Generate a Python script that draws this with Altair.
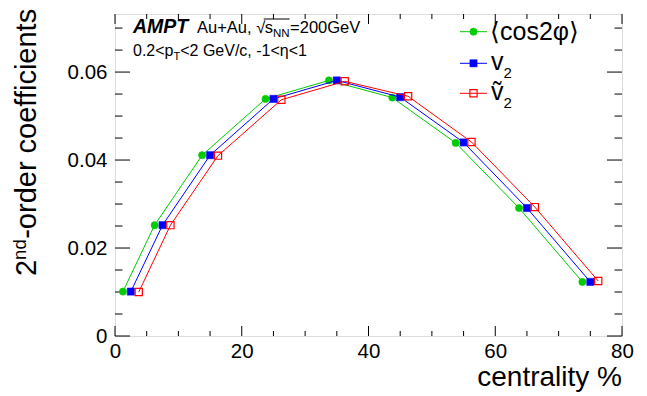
import altair as alt
import pandas as pd

# ---------------- data ----------------
cent_cos = [1.25, 6.25, 13.75, 23.75, 33.75, 43.75, 53.75, 63.75, 73.75]
val_cos = [0.0101, 0.0252, 0.0411, 0.0539, 0.0581, 0.0542, 0.0439, 0.0291, 0.0123]

cent_v2 = [2.5, 7.5, 15.0, 25.0, 35.0, 45.0, 55.0, 65.0, 75.0]
val_v2 = [0.0101, 0.0252, 0.0411, 0.0539, 0.0581, 0.0543, 0.0440, 0.0291, 0.0123]

cent_v2t = [3.75, 8.75, 16.25, 26.25, 36.25, 46.25, 56.25, 66.25, 76.25]
val_v2t = [0.0100, 0.0252, 0.0410, 0.0537, 0.0579, 0.0545, 0.0441, 0.0293, 0.0125]

x_major = [0, 20, 40, 60, 80]
x_minor = [5, 10, 15, 25, 30, 35, 45, 50, 55, 65, 70, 75]
y_major = [0.0, 0.02, 0.04, 0.06]
y_minor = [0.005, 0.01, 0.015, 0.025, 0.03, 0.035, 0.045, 0.05, 0.055, 0.065, 0.07]

# ---------------- layout ----------------
W, H = 507, 322
OX, OY = 115, 14          # page position of plot origin
FONT = "Liberation Sans"
GREEN, BLUE, RED = "#00cc00", "#0000ff", "#ff0000"

xs = alt.Scale(domain=[0, 80], nice=False, zero=False)
ys = alt.Scale(domain=[0, 0.0732], nice=False, zero=False)
xaxis = alt.Axis(values=x_major, title=None, labelFlush=False, labelPadding=5,
                 labelFontSize=20.5, labelFont=FONT, labelColor="black",
                 ticks=False, domain=False, grid=False)
yaxis = alt.Axis(values=y_major, title=None, labelPadding=8, labelFontSize=20.5,
                 labelFont=FONT, labelColor="black", ticks=False, domain=False,
                 grid=False,
                 labelExpr="datum.value == 0 ? '0' : format(datum.value, '.2f')")

AW = {' ': 278, '%': 889, '+': 584, ',': 278, '-': 333, '.': 278, '/': 278,
      '<': 584, '=': 584, 'A': 667, 'G': 778, 'N': 722, 'T': 611, 'V': 667,
      'a': 556, 'c': 500, 'd': 556, 'e': 556, 'f': 278, 'i': 222, 'l': 222,
      'n': 556, 'o': 556, 'p': 556, 'r': 333, 's': 500, 't': 278, 'u': 556,
      'y': 500, 'v': 500, 'η': 556, '√': 549, 'M': 833, 'P': 667}
for d in "0123456789":
    AW[d] = 556


def tw(s, size):
    return sum(AW.get(ch, 556) for ch in s) * size / 1000.0


dummy = pd.DataFrame({"d": [0]})


def txt(s, px, py, size, angle=None, **kw):
    props = dict(text=s, fontSize=size, font=FONT, align="left",
                 baseline="alphabetic", color="black")
    if angle is not None:
        props["angle"] = angle
    props.update(kw)
    return alt.Chart(dummy).mark_text(**props).encode(
        x=alt.value(px - OX), y=alt.value(py - OY))


def series(xv, yv, color, shape, filled):
    df = pd.DataFrame({"c": xv, "v": yv})
    enc = dict(x=alt.X("c:Q", scale=xs, axis=xaxis),
               y=alt.Y("v:Q", scale=ys, axis=yaxis))
    line = alt.Chart(df).mark_line(color=color, strokeWidth=1).encode(**enc)
    if filled:
        pts = alt.Chart(df).mark_point(shape=shape, filled=True, fill=color,
                                       stroke=color, strokeWidth=0.5,
                                       size=52, opacity=1).encode(**enc)
    else:
        pts = alt.Chart(df).mark_point(shape=shape, filled=False, stroke=color,
                                       strokeWidth=1.2, size=52,
                                       opacity=1).encode(**enc)
    return [line, pts]


def yticks(vals, length):
    df = pd.DataFrame({"t": vals})
    b = alt.Chart(df).mark_rule(color="black", strokeWidth=1)
    y = alt.Y("t:Q", scale=ys, axis=yaxis)
    return [b.encode(y=y, x=alt.value(0), x2=alt.value(length)),
            b.encode(y=y, x=alt.value(W), x2=alt.value(W - length))]


def xticks(vals, length):
    df = pd.DataFrame({"t": vals})
    b = alt.Chart(df).mark_rule(color="black", strokeWidth=1)
    x = alt.X("t:Q", scale=xs, axis=xaxis)
    return [b.encode(x=x, y=alt.value(H), y2=alt.value(H - length)),
            b.encode(x=x, y=alt.value(0), y2=alt.value(length))]


layers = []
layers += yticks(y_major, 15) + yticks(y_minor, 7.5)
layers += xticks(x_major, 10) + xticks(x_minor, 5)
layers += series(cent_cos, val_cos, GREEN, "circle", True)
layers += series(cent_v2, val_v2, BLUE, "square", True)
layers += series(cent_v2t, val_v2t, RED, "square", False)

# ---- axis titles ----
layers.append(txt("centrality %", 622, 386, 28, align="right"))
ybx, ystart = 36, 276
layers.append(txt("2", ybx, ystart, 29, angle=270))
y2 = ystart - tw("2", 29)
layers.append(txt("nd", ybx - 10, y2, 18.5, angle=270))
y3 = y2 - tw("nd", 18.5) - 0.5
layers.append(txt("-order coefficients", ybx, y3, 29, angle=270))

# ---- top-left annotation ----
b1, b2 = 33, 56
FS1 = 16.5
layers.append(txt("AMPT", 133, b1, 19.5, fontWeight="bold", fontStyle="italic"))
x = 197
layers.append(txt("Au+Au,", x, b1, FS1))
x += tw("Au+Au, ", FS1)
layers.append(txt("√", x, b1, FS1))
xs_ = x + tw("√", FS1) - 0.5
layers.append(txt("s", xs_, b1, FS1))
xn = xs_ + tw("s", FS1)
layers.append(txt("NN", xn, b1 + 4, 11.5))
xe = xn + tw("NN", 11.5) + 0.5
layers.append(alt.Chart(dummy).mark_rule(color="black", strokeWidth=1).encode(
    x=alt.value(xs_ - 1 - OX), x2=alt.value(xe - 0.5 - OX),
    y=alt.value(b1 - 14 - OY)))
layers.append(txt("=200GeV", xe, b1, FS1))

x = 133
layers.append(txt("0.2<p", x, b2, 16))
x += tw("0.2<p", 16)
layers.append(txt("T", x, b2 + 4, 11))
x += tw("T", 11)
layers.append(txt("<2 GeV/c, -1<η<1", x, b2, 16))

# ---- legend ----
leg = [(31.7, GREEN, "circle", True), (63.3, BLUE, "square", True),
       (93.3, RED, "square", False)]
for ly, col, shp, fil in leg:
    layers.append(alt.Chart(dummy).mark_rule(color=col, strokeWidth=1).encode(
        x=alt.value(460 - OX), x2=alt.value(487 - OX), y=alt.value(ly - OY)))
    if fil:
        m = alt.Chart(dummy).mark_point(shape=shp, filled=True, fill=col,
                                        stroke=col, strokeWidth=0.5, size=52,
                                        opacity=1)
    else:
        m = alt.Chart(dummy).mark_point(shape=shp, filled=False, stroke=col,
                                        strokeWidth=1.2, size=52, opacity=1)
    layers.append(m.encode(x=alt.value(473.5 - OX), y=alt.value(ly - OY)))

layers.append(txt("⟨cos2φ⟩", 490, 40, 25))
layers.append(txt("v", 491, 69.5, 25))
layers.append(txt("2", 503.5, 77.5, 15))
layers.append(txt("ṽ", 491, 100, 25))
layers.append(txt("2", 503.5, 108, 15))

chart = alt.layer(*layers).properties(
    width=W, height=H,
    autosize=alt.AutoSizeParams(type="none"),
    padding={"left": OX - 8, "top": OY - 8, "right": 631 - (OX - 8) - W,
             "bottom": 384 - (OY - 8) - H},
).configure_view(stroke="black", strokeWidth=2).configure(background="white")

chart.save("out.html", embed_options={"renderer": "svg", "actions": False})
